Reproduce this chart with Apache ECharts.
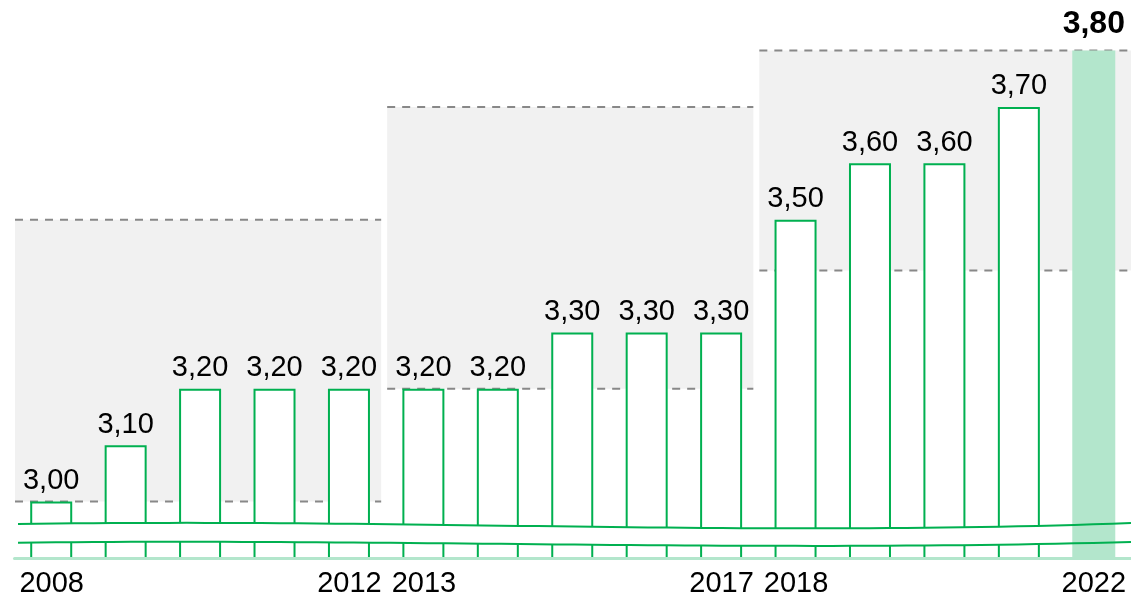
<!DOCTYPE html>
<html>
<head>
<meta charset="utf-8">
<script src="https://cdn.jsdelivr.net/npm/echarts@6/dist/echarts.min.js"></script>
<style>
  html, body { margin: 0; padding: 0; background: #fff; }
  #chart { width: 1131px; height: 601px; }
</style>
</head>
<body>
<div id="chart"></div>
<script>
// data
const years = ['2008', '2009', '2010', '2011', '2012', '2013', '2014', '2015',
  '2016', '2017', '2018', '2019', '2020', '2021', '2022'];
const values = [3.00, 3.10, 3.20, 3.20, 3.20, 3.20, 3.20, 3.30, 3.30, 3.30,
  3.50, 3.60, 3.60, 3.70, 3.80];
const shownYears = ['2008', '2012', '2013', '2017', '2018', '2022'];
// [first index, last index, low, high] of the grey period boxes
const periods = [[0, 4, 3.00, 3.50], [5, 9, 3.20, 3.70], [10, 14, 3.41, 3.80]];
const breakRange = [2.927, 2.960];   // axis break (bottom, top)
const yMin = 2.9, yMax = 3.8;

const GREEN = '#00b050';
const MINT = '#b3e6cc';
const FONT = "'Liberation Sans', Arial, sans-serif";

const lastIdx = values.length - 1;
const normalBars = values.map((v, i) => i === lastIdx ? '-' : v);
const lastBar = values.map((v, i) => i === lastIdx ? v : '-');
const fmt = p => p.value.toFixed(2).replace('.', ',');

// wave for the break, sampled cubic bezier (y offsets in px)
function wave(x0, x1, y, amp) {
  const cx1 = x0 + (x1 - x0) * 0.34, cx2 = x0 + (x1 - x0) * 0.66;
  const ys = [0, -6 * amp, 13 * amp, -1 * amp];
  const pts = [];
  for (let k = 0; k <= 60; k++) {
    const t = k / 60, u = 1 - t;
    const b = [u * u * u, 3 * u * u * t, 3 * u * t * t, t * t * t];
    pts.push([b[0] * x0 + b[1] * cx1 + b[2] * cx2 + b[3] * x1,
      y + b[0] * ys[0] + b[1] * ys[1] + b[2] * ys[2] + b[3] * ys[3]]);
  }
  return pts;
}

function breakGeom(api) {
  const bw = api.size([1, 0])[0];
  const x0 = api.coord([0, breakRange[0]])[0] - bw / 2 + 3.5;
  const x1 = api.coord([lastIdx, breakRange[0]])[0] + bw / 2;
  const yTop = api.coord([0, breakRange[1]])[1];
  const yBot = api.coord([0, breakRange[0]])[1];
  return { top: wave(x0, x1, yTop, 1), bot: wave(x0, x1, yBot, 0.75) };
}

const chart = echarts.init(document.getElementById('chart'));
const option = {
  animation: false,
  grid: { left: 14.5, top: 50.6, width: 1120, bottom: 43.1 },
  xAxis: {
    type: 'category',
    data: years,
    z: 10,
    axisLine: { show: true, lineStyle: { color: MINT, width: 3 } },
    axisTick: { show: false },
    axisLabel: {
      interval: (i, v) => shownYears.includes(v),
      color: '#000',
      fontSize: 29,
      fontFamily: FONT,
      margin: 12
    }
  },
  yAxis: {
    type: 'value',
    min: yMin,
    max: yMax,
    show: false,
    splitLine: { show: false }
  },
  series: [
    {
      // grey period boxes with dashed bounds
      type: 'custom',
      z: 1,
      silent: true,
      encode: { x: [0, 1], y: [2, 3] },
      data: periods,
      renderItem: (params, api) => {
        const bw = api.size([1, 0])[0];
        const lo = api.coord([api.value(0), api.value(2)]);
        const hi = api.coord([api.value(1), api.value(3)]);
        const isLast = api.value(1) === lastIdx;
        const x0 = lo[0] - bw / 2 + 0.5;
        const x1 = hi[0] + bw / 2 - (isLast ? 0 : 5.5);
        const dash = { stroke: '#888', lineWidth: 2, lineDash: [8, 7] };
        return {
          type: 'group',
          children: [
            { type: 'rect', shape: { x: x0, y: hi[1], width: x1 - x0, height: lo[1] - hi[1] },
              style: { fill: '#f1f1f1' } },
            { type: 'line', shape: { x1: x0, y1: hi[1], x2: x1, y2: hi[1] }, style: dash },
            { type: 'line', shape: { x1: x0, y1: lo[1], x2: x1, y2: lo[1] }, style: dash }
          ]
        };
      }
    },
    {
      name: 'values',
      type: 'bar',
      z: 2,
      barWidth: 42,
      barGap: '-100%',
      data: normalBars,
      itemStyle: { color: '#fff', borderColor: GREEN, borderWidth: 2 },
      label: {
        show: true,
        position: 'top',
        distance: 6,
        color: '#000',
        fontSize: 29,
        fontFamily: FONT,
        formatter: fmt
      }
    },
    {
      // white gap of the axis break
      type: 'custom',
      z: 3,
      silent: true,
      data: [[0, breakRange[0]]],
      renderItem: (params, api) => {
        const g = breakGeom(api);
        return {
          type: 'polygon',
          shape: { points: g.top.concat(g.bot.slice().reverse()) },
          style: { fill: '#fff' }
        };
      }
    },
    {
      name: 'current',
      type: 'bar',
      z: 4,
      barWidth: 43,
      barGap: '-100%',
      data: lastBar,
      itemStyle: { color: MINT },
      label: {
        show: true,
        position: 'top',
        distance: 10,
        color: '#000',
        fontSize: 32,
        fontWeight: 'bold',
        fontFamily: FONT,
        formatter: fmt
      }
    },
    {
      // wave lines of the axis break
      type: 'custom',
      z: 5,
      silent: true,
      data: [[0, breakRange[0]]],
      renderItem: (params, api) => {
        const g = breakGeom(api);
        const st = { stroke: GREEN, lineWidth: 2, fill: null };
        return {
          type: 'group',
          children: [
            { type: 'polyline', shape: { points: g.top, smooth: 0 }, style: st },
            { type: 'polyline', shape: { points: g.bot, smooth: 0 }, style: st }
          ]
        };
      }
    }
  ]
};
chart.setOption(option);
</script>
</body>
</html>
